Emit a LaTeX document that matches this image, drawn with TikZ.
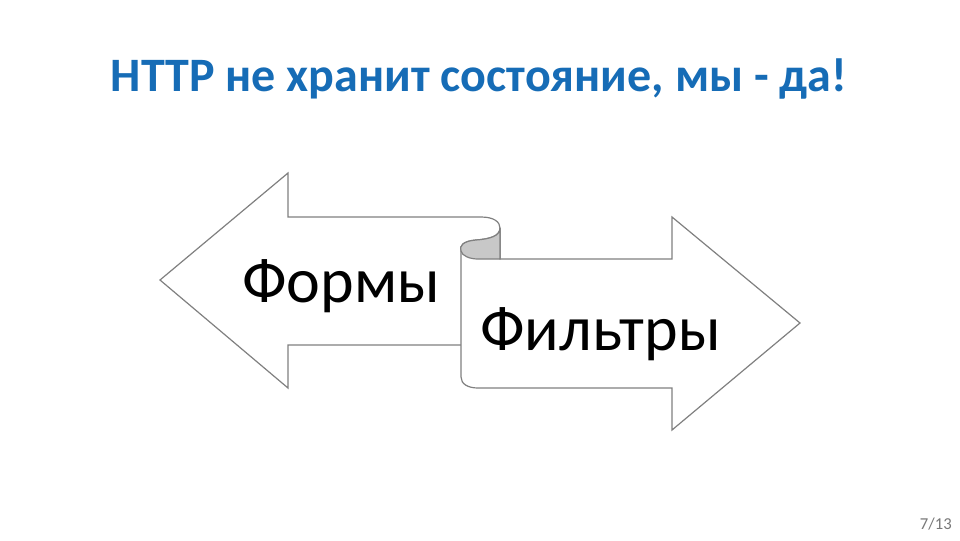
\documentclass[tikz,border=0pt]{standalone}
\usepackage{fontspec}
\setmainfont{Carlito}
\definecolor{titleblue}{RGB}{22,108,182}
\definecolor{edgegray}{RGB}{128,128,128}
\definecolor{curlgray}{RGB}{200,200,200}
\definecolor{pagegray}{RGB}{120,120,120}
\begin{document}
\begin{tikzpicture}[x=0.75pt,y=-0.75pt,
  shapeedge/.style={draw=edgegray,line width=0.9pt,fill=white,line join=miter},
  titletext/.style={font=\fontsize{36}{42}\selectfont\bfseries,text=titleblue,inner sep=0pt,anchor=base},
  bodytext/.style={font=\fontsize{48}{56}\selectfont,text=black,inner sep=0pt,anchor=base west},
  pagetext/.style={font=\fontsize{12.5}{14}\selectfont,text=pagegray,inner sep=0pt,anchor=base east}]
\useasboundingbox (0,0) rectangle (960,540);
\fill[white] (0,0) rectangle (960,540);
% title
\node[titletext] (title) at (479,91) {HTTP не хранит состояние, мы - да!};
% left arrow (behind)
\path[shapeedge] (160,280) -- (288,173) -- (288,217) -- (481,217)
  .. controls (494,217) and (500,222) .. (500,228)
  -- (500,345) -- (288,345) -- (288,388) -- cycle;
% right scroll arrow
\path[shapeedge] (461,251) -- (461,377)
  .. controls (461,384) and (468,388) .. (478,388)
  -- (672,388) -- (672,430) -- (800,323) -- (672,217) -- (672,259)
  -- (500,259) -- (500,228)
  .. controls (500,236) and (490,239) .. (476,240)
  .. controls (463,241) and (459,246) .. (461,251) -- cycle;
% curl shading
\path[draw=edgegray,line width=0.9pt,fill=curlgray] (500,228)
  .. controls (500,236) and (490,239) .. (476,240)
  .. controls (463,241) and (459,246) .. (461,251)
  .. controls (462,256) and (470,259) .. (478,259)
  -- (500,259) -- cycle;
% texts
\node[bodytext] (formy) at (242,302) {Формы};
\node[bodytext] (filtry) at (480,350) {Фильтры};
\node[pagetext] (page) at (952,529) {7/13};
\end{tikzpicture}
\end{document}
